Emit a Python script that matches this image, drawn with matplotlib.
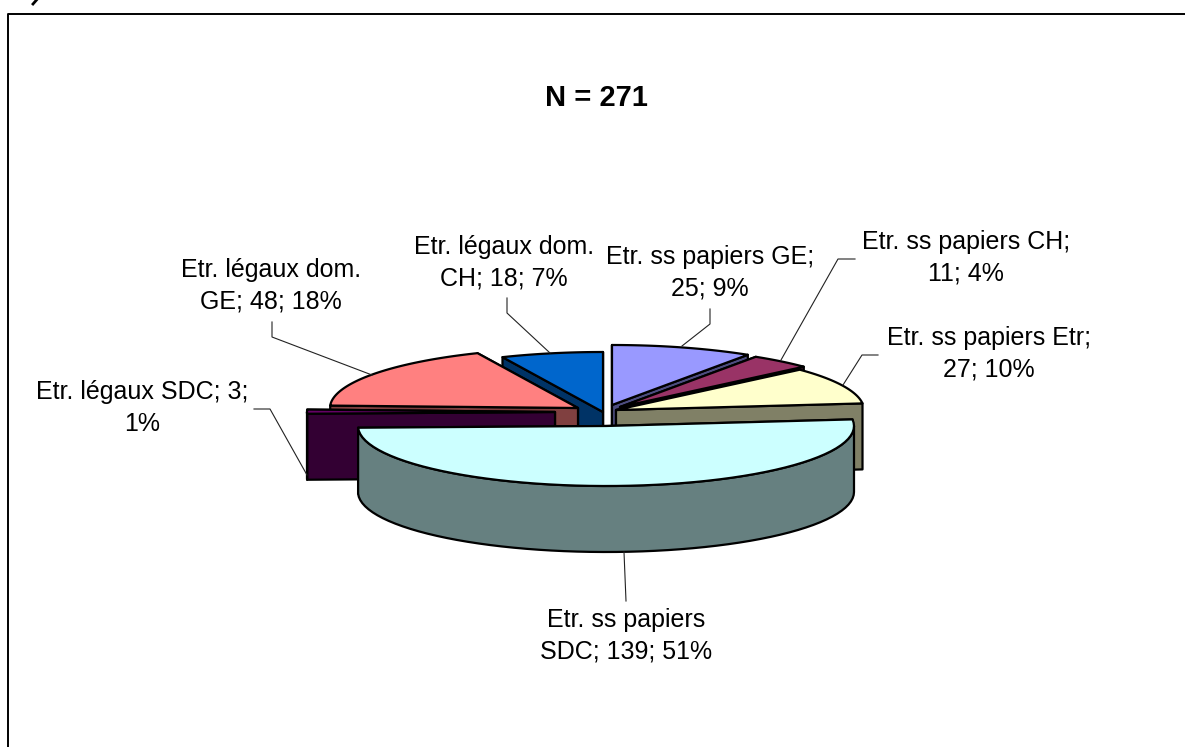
import numpy as np
import matplotlib
matplotlib.use("Agg")
import matplotlib.pyplot as plt
from matplotlib.patches import Polygon

plt.rcParams["font.family"] = ["Liberation Sans", "DejaVu Sans"]

# Pie data, clockwise from 12 o'clock
categories = ["Etr. ss papiers GE", "Etr. ss papiers CH", "Etr. ss papiers Etr",
              "Etr. ss papiers SDC", "Etr. légaux SDC", "Etr. légaux dom. GE",
              "Etr. légaux dom. CH"]
values = [25, 11, 27, 139, 3, 48, 18]
labels = ["Etr. ss papiers GE;\n25; 9%", "Etr. ss papiers CH;\n11; 4%",
          "Etr. ss papiers Etr;\n27; 10%", "Etr. ss papiers\nSDC; 139; 51%",
          "Etr. légaux SDC; 3;\n1%", "Etr. légaux dom.\nGE; 48; 18%",
          "Etr. légaux dom.\nCH; 18; 7%"]

# Colours
top_colors = ["#9999FF", "#993366", "#FFFFCC", "#CCFFFF", "#660066", "#FF8080", "#0066CC"]
side_colors = ["#4D4D80", "#4D1A33", "#808066", "#668080", "#330033", "#804040", "#003366"]

# Layout in pixels
center_x, center_y = 605, 412
radius_x, radius_y = 248, 60
depth = 66
explode_x = [7, 15, 11, 1, -50, -27, -2]
explode_y = [-7, -5, -2, 14, 0, -4, 0]
label_x = [710, 966, 989, 626, 142, 271, 504]
label_y = [273, 258, 354, 636, 408, 286, 263]
leader_x = [[710, 710, 682], [855, 838, 781], [878, 862, 843], [624, 626],
            [254, 270, 307], [272, 272, 372], [507, 507, 550]]
leader_y = [[309, 324, 346], [259, 259, 360], [355, 355, 385], [552, 601],
            [409, 409, 475], [322, 337, 375], [298, 313, 353]]

fig = plt.figure(figsize=(11.85, 7.47), dpi=100)
ax = fig.add_axes([0, 0, 1, 1])
ax.set_xlim(0, 1185)
ax.set_ylim(747, 0)
ax.axis("off")


def rim(apex_x, apex_y, a0, a1):
    t = np.radians(np.linspace(a0, a1, 60))
    return apex_x + radius_x * np.sin(t), apex_y - radius_y * np.cos(t)


def draw_poly(xs, ys, color):
    ax.add_patch(Polygon(np.column_stack([xs, ys]), closed=True, facecolor=color,
                         edgecolor="black", linewidth=1.6, joinstyle="round"))


# Angles come from the values
ends = np.cumsum(values) / sum(values) * 360
starts = ends - np.array(values) / sum(values) * 360
mids = (starts + ends) / 2

# back to front
order = np.argsort(-np.abs(mids - 180))
for i in order:
    ax_i = center_x + explode_x[i]
    ay_i = center_y + explode_y[i]
    a0, a1 = starts[i], ends[i]

    # straight walls, the one nearest the viewer last
    for a in sorted([a0, a1], key=lambda v: -np.cos(np.radians(v))):
        rx, ry = rim(ax_i, ay_i, a, a)
        draw_poly([ax_i, rx[0], rx[0], ax_i], [ay_i, ry[0], ry[0] + depth, ay_i + depth], side_colors[i])

    # curved wall, front half only
    f0, f1 = max(a0, 90), min(a1, 270)
    if f1 > f0:
        rx, ry = rim(ax_i, ay_i, f0, f1)
        draw_poly(np.r_[rx, rx[::-1]], np.r_[ry, ry[::-1] + depth], side_colors[i])

    # top face
    rx, ry = rim(ax_i, ay_i, a0, a1)
    draw_poly(np.r_[ax_i, rx], np.r_[ay_i, ry], top_colors[i])

# Leader lines and labels
for i in range(len(values)):
    ax.plot(leader_x[i], leader_y[i], color="#222222", lw=0.8)
    ax.text(label_x[i], label_y[i], labels[i], ha="center", va="center",
            fontsize=18, linespacing=1.4, color="black")

ax.text(596, 97.5, "N = 271", ha="center", va="center", fontsize=21, fontweight="bold")

# Chart frame, open at right and bottom
ax.plot([8, 8, 1185], [747, 14, 14], color="black", lw=1.4)

# Small stroke left over at the top edge of the page
ax.plot([36.5, 33], [0, 4], color="black", lw=2)

fig.savefig("out.png", dpi=100)
